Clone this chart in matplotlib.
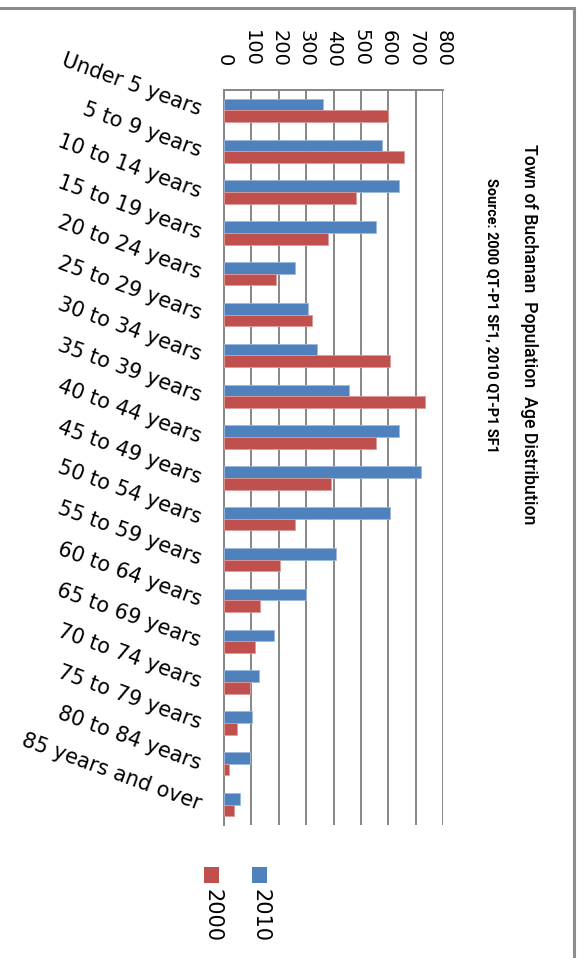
#!/usr/bin/env python
# -*- coding: utf-8 -*-
"""
Town of Buchanan population by age group, 2000 vs 2010.

Drawn as the reference shows it: an Excel column chart turned a quarter
turn clockwise, so the value axis runs along the top and the text reads
top to bottom.
"""
import matplotlib

matplotlib.use("Agg")
import matplotlib.pyplot as plt
import numpy as np
from matplotlib.lines import Line2D
from matplotlib.patches import Rectangle

# Age groups (top to bottom)
AGES = [
    "Under 5 years", "5 to 9 years", "10 to 14 years", "15 to 19 years",
    "20 to 24 years", "25 to 29 years", "30 to 34 years", "35 to 39 years",
    "40 to 44 years", "45 to 49 years", "50 to 54 years", "55 to 59 years",
    "60 to 64 years", "65 to 69 years", "70 to 74 years", "75 to 79 years",
    "80 to 84 years", "85 years and over",
]

# Persons
POP_2010 = [362, 578, 640, 555, 259, 307, 340, 456, 640, 719,
            607, 410, 299, 184, 128, 103, 96, 58]
POP_2000 = [600, 659, 484, 380, 189, 320, 607, 733, 555, 390,
            259, 203, 133, 114, 96, 48, 20, 35]

XTICKS = [0, 100, 200, 300, 400, 500, 600, 700, 800]

TITLE = "Town of Buchanan  Population  Age Distribution"
SUBTITLE = "Source: 2000 QT-P1 SF1, 2010 QT-P1 SF1"

BLUE = "#4F81BD"
RED = "#C0504D"
GRID = "#868686"
NARROW = ["Roboto", "Liberation Sans", "DejaVu Sans"]


def main():
    fig = plt.figure(figsize=(5.82, 9.58), dpi=100)
    fig.patch.set_facecolor("white")

    ax = fig.add_axes([224 / 582, 1 - 825 / 958, 219 / 582, 735 / 958])

    y = np.arange(len(AGES))
    h = 0.286
    ax.barh(y - h / 2, POP_2010, height=h, color=BLUE,
            edgecolor="#9DB9DC", linewidth=0.6, zorder=3)
    ax.barh(y + h / 2, POP_2000, height=h, color=RED,
            edgecolor="#DC9A98", linewidth=0.6, zorder=3)

    ax.set_xlim(0, 800)
    ax.set_ylim(len(AGES) - 0.5, -0.5)

    # value axis on top, labels read top to bottom
    ax.xaxis.tick_top()
    ax.set_xticks(XTICKS)
    ax.set_xticklabels([str(v) for v in XTICKS])
    ax.tick_params(axis="x", length=0, pad=17, labelsize=14,
                   labelrotation=-90)
    for lab in ax.get_xticklabels():
        lab.set_va("bottom")

    ax.set_yticks(y)
    ax.set_yticklabels(AGES, fontsize=15)
    ax.tick_params(axis="y", length=0, pad=17)
    for lab in ax.get_yticklabels():
        lab.set_rotation(-20)
        lab.set_rotation_mode("anchor")
        lab.set_ha("right")
        lab.set_va("center")

    ax.grid(axis="x", color=GRID, linewidth=1.4, zorder=0)
    ax.set_axisbelow(True)
    for side in ["bottom", "right"]:
        ax.spines[side].set_visible(False)
    for side in ["top", "left"]:
        ax.spines[side].set_color(GRID)
        ax.spines[side].set_linewidth(1.4)

    # titles, turned like the rest of the chart
    fig.text(529 / 582, 1 - 334 / 958, TITLE, rotation=-90, ha="center",
             va="center", fontsize=12.8, fontweight="medium", family=NARROW)
    fig.text(491 / 582, 1 - 315 / 958, SUBTITLE, rotation=-90,
             ha="center", va="center", fontsize=10.4, fontweight="bold",
             family=NARROW)

    # legend: squares with the year under each
    for x0, col, year in [(204, RED, "2000"), (252, BLUE, "2010")]:
        fig.add_artist(Rectangle((x0 / 582, 1 - 883 / 958), 15 / 582,
                                 16 / 958, transform=fig.transFigure,
                                 facecolor=col, edgecolor="none"))
        fig.text((x0 + 8) / 582, 1 - 889 / 958, year, rotation=-90,
                 ha="center", va="top", fontsize=15)

    # chart frame (top and right edges show)
    fx = 574 / 582
    fy = 1 - 8 / 958
    fig.add_artist(Line2D([0, fx], [fy, fy], transform=fig.transFigure,
                          color="#8C8C8C", linewidth=2.2))
    fig.add_artist(Line2D([fx, fx], [0, fy], transform=fig.transFigure,
                          color="#8C8C8C", linewidth=2.2))

    fig.savefig("out.png", dpi=100, facecolor="white")


if __name__ == "__main__":
    main()
